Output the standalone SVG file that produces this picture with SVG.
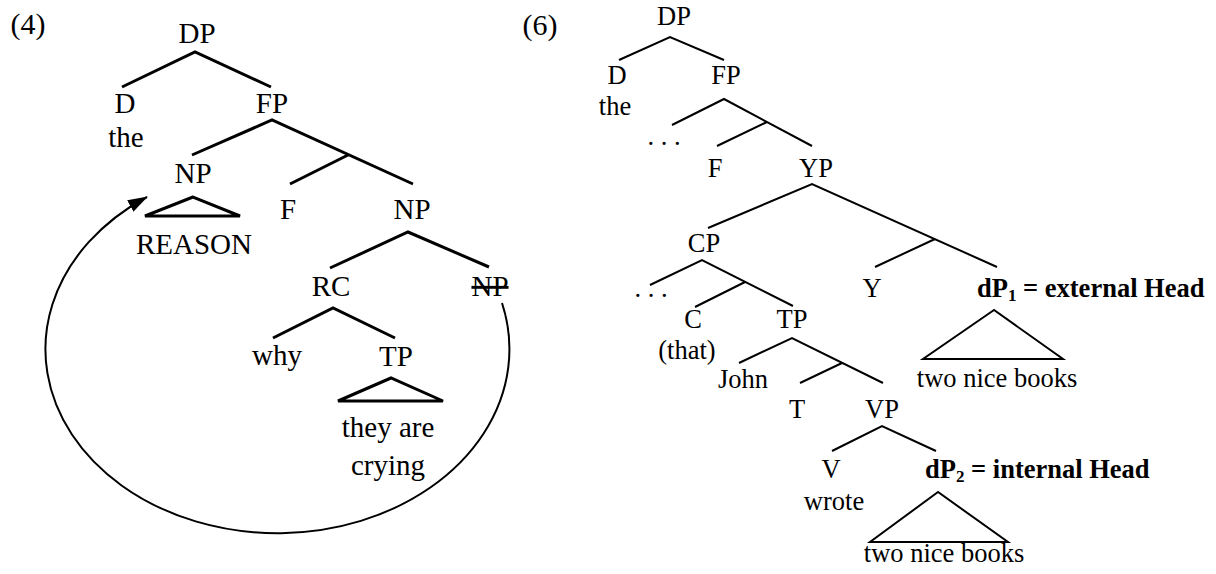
<svg xmlns="http://www.w3.org/2000/svg" width="1216" height="574" viewBox="0 0 1216 574">
<style>
text{font-family:'Liberation Serif','Times New Roman',serif;fill:#000;text-anchor:middle}
.sz4{font-size:29px}
.sz6{font-size:26.5px}
.numlbl{font-size:30px}
.headlbl{font-weight:bold;text-anchor:start}
.edge4{stroke:#000;stroke-width:3;fill:none;stroke-linejoin:miter}
.edge6{stroke:#000;stroke-width:2;fill:none;stroke-linejoin:miter}
.movearc{stroke:#000;stroke-width:2;fill:none}
</style>
<defs>
<marker id="ah" markerUnits="userSpaceOnUse" markerWidth="22" markerHeight="14" refX="19" refY="7" orient="auto">
<path d="M0,0.5 L20,7 L0,13.5 Z" fill="#000"/>
</marker>
</defs>
<rect width="1216" height="574" fill="#fff"/>
<g id="connectors">
<path class="edge4" d="M122,87 L195,52 L271,87"/>
<path class="edge4" d="M192,155 L272,120 L413,184 M348,155 L290,184"/>
<path class="edge4" d="M330,268 L408,232 L489,267"/>
<path class="edge4" d="M273,338 L333,308 L395,338"/>
<path class="edge4" d="M193,197 L145,216 L240,216 Z"/>
<path class="edge4" d="M391,378 L338,401 L443,401 Z"/>
<path class="movearc" d="M502,303 A232,184 0 1 1 147,197" marker-end="url(#ah)"/>
<path class="edge6" d="M619,60 L670,37 L724,60"/>
<path class="edge6" d="M672,125 L724,99 L812,146 M767,122 L717,146"/>
<path class="edge6" d="M708,228 L812,184 L997,267 M935,239 L875,267"/>
<path class="edge6" d="M650,285 L702,260 L793,306 M745,282 L695,307"/>
<path class="edge6" d="M739,363 L792,338 L883,383 M842,363 L800,383"/>
<path class="edge6" d="M832,451 L882,426 L936,451"/>
<path class="edge6" d="M994,310 L923,359 L1063,359 Z"/>
<path class="edge6" d="M938,492 L870,542 L1008,542 Z"/>
</g>
<g id="labels">
<g id="label4"><text class="numlbl" x="28" y="34">(4)</text></g>
<g id="t4-DP"><text class="sz4" x="197" y="43">DP</text></g>
<g id="t4-D"><text class="sz4" x="125" y="113">D</text><text class="sz4" x="126" y="147">the</text></g>
<g id="t4-FP"><text class="sz4" x="272" y="113">FP</text></g>
<g id="t4-NP1"><text class="sz4" x="193" y="183">NP</text><text class="sz4" x="194" y="254">REASON</text></g>
<g id="t4-F"><text class="sz4" x="288" y="219">F</text></g>
<g id="t4-NP2"><text class="sz4" x="412" y="219">NP</text></g>
<g id="t4-RC"><text class="sz4" x="331" y="296">RC</text></g>
<g id="t4-NP3"><text class="sz4" x="490" y="296" text-decoration="line-through">NP</text></g>
<g id="t4-why"><text class="sz4" x="277" y="365">why</text></g>
<g id="t4-TP"><text class="sz4" x="396" y="366">TP</text><text class="sz4" x="388" y="437">they are</text><text class="sz4" x="388" y="475">crying</text></g>
<g id="label6"><text class="numlbl" x="540" y="35">(6)</text></g>
<g id="t6-DP"><text class="sz6" x="674" y="25">DP</text></g>
<g id="t6-D"><text class="sz6" x="617" y="84">D</text><text class="sz6" x="615" y="115">the</text></g>
<g id="t6-FP"><text class="sz6" x="726" y="84">FP</text></g>
<g id="t6-dots1"><text class="sz6" x="664" y="145">. . .</text></g>
<g id="t6-F"><text class="sz6" x="715" y="177">F</text></g>
<g id="t6-YP"><text class="sz6" x="816" y="177">YP</text></g>
<g id="t6-CP"><text class="sz6" x="704" y="252">CP</text></g>
<g id="t6-dots2"><text class="sz6" x="651" y="297">. . .</text></g>
<g id="t6-Y"><text class="sz6" x="872" y="297">Y</text></g>
<g id="t6-dP1"><text class="sz6 headlbl" x="977" y="297">dP<tspan font-size="17" dy="4">1</tspan><tspan dy="-4"> = external Head</tspan></text><text class="sz6" x="997" y="387">two nice books</text></g>
<g id="t6-C"><text class="sz6" x="693" y="328">C</text><text class="sz6" x="687" y="359">(that)</text></g>
<g id="t6-TP"><text class="sz6" x="792" y="328">TP</text></g>
<g id="t6-John"><text class="sz6" x="743" y="388">John</text></g>
<g id="t6-T"><text class="sz6" x="797" y="418">T</text></g>
<g id="t6-VP"><text class="sz6" x="882" y="418">VP</text></g>
<g id="t6-V"><text class="sz6" x="831" y="478">V</text><text class="sz6" x="834" y="510">wrote</text></g>
<g id="t6-dP2"><text class="sz6 headlbl" x="925" y="478">dP<tspan font-size="17" dy="4">2</tspan><tspan dy="-4"> = internal Head</tspan></text><text class="sz6" x="944" y="562">two nice books</text></g>
</g>
</svg>
